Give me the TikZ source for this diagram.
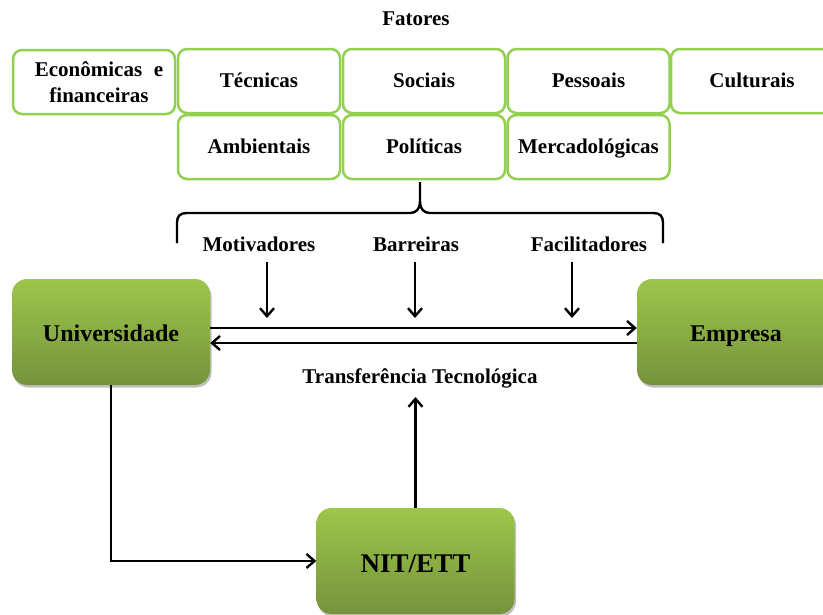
\documentclass[tikz,border=0pt]{standalone}
\usepackage{fontspec}
\setmainfont{Liberation Serif}
\usetikzlibrary{arrows.meta,shadows}
\definecolor{boxline}{RGB}{146,208,80}
\definecolor{gtop}{RGB}{157,198,75}
\definecolor{gbot}{RGB}{118,147,60}
\tikzset{
  fator/.style={draw=boxline, line width=2.5pt, rounded corners=9pt, fill=white,
    minimum width=162pt, minimum height=64pt, inner sep=0pt, align=center,
    text height=16pt, text depth=4pt,
    font=\fontsize{21}{26}\selectfont\bfseries},
  bigbox/.style={rounded corners=15pt, top color=gtop, bottom color=gbot, draw=none,
    minimum width=198pt, minimum height=106pt, inner sep=0pt,
    drop shadow={shadow xshift=1.5pt, shadow yshift=-2.5pt, fill=black, opacity=0.25}},
  lbl/.style={font=\fontsize{21}{22}\selectfont\bfseries, inner sep=0pt,
    text height=16pt, text depth=4pt},
  arr/.style={line width=2.4pt, -{Straight Barb[length=8pt,width=14pt,line width=2.4pt]}},
  ln/.style={line width=2.4pt}
}
\begin{document}
\begin{tikzpicture}[x=1pt,y=-1pt]
\clip (0,0) rectangle (823,614);
\fill[white] (0,0) rectangle (823,614);

\node[lbl] (fat) at (416,19) {Fatores};

% factor boxes
\node[fator, text height=, text depth=] (eco) at (94,82) {\hspace*{10pt}Econômicas\hspace{0.3em} e\\\hspace*{10pt}financeiras};
\node[fator] (tec) at (259,81) {Técnicas};
\node[fator] (soc) at (424,81) {Sociais};
\node[fator] (pes) at (588.5,81) {Pessoais};
\node[fator] (cul) at (752,81) {Culturais};
\node[fator] (amb) at (259,147) {Ambientais};
\node[fator] (pol) at (424,147) {Políticas};
\node[fator] (mer) at (588.5,147) {Mercadológicas};

% brace
\coordinate (bl) at (177,243);
\coordinate (br) at (663,243);
\coordinate (bt) at (420,182);
\draw[ln] (bl) -- (177,223) .. controls (177,216) and (180,213) .. (187,213)
  -- (410,213) .. controls (416,213) and (420,209) .. (420,202) -- (bt);
\draw[ln] (br) -- (663,223) .. controls (663,216) and (660,213) .. (653,213)
  -- (430,213) .. controls (424,213) and (420,209) .. (420,202);

% labels
\node[lbl] (mot) at (259,245) {Motivadores};
\node[lbl] (bar) at (416,245) {Barreiras};
\node[lbl] (fac) at (589,245) {Facilitadores};

% big boxes
\node[bigbox, text height=24pt, text depth=4.6pt] (uni) at (111,332) {\fontsize{24}{26}\selectfont\bfseries Universidade};
\node[bigbox, text height=24pt, text depth=4.6pt] (emp) at (736,332) {\fontsize{24}{26}\selectfont\bfseries Empresa};
\node[bigbox, text height=27pt, text depth=5pt] (nit) at (415.5,561) {\fontsize{27}{29}\selectfont\bfseries NIT/ETT};

\node[lbl] (tt) at (420,377) {Transferência Tecnológica};

% down arrows
\coordinate (m1) at (267,262); \coordinate (m2) at (267,318);
\coordinate (b1) at (415,262); \coordinate (b2) at (415,318);
\coordinate (f1) at (572,262); \coordinate (f2) at (572,318);
\draw[arr] (m1) -- (m2);
\draw[arr] (b1) -- (b2);
\draw[arr] (f1) -- (f2);

% horizontal transfer lines
\draw[arr] ([yshift=4pt]uni.east) -- ([yshift=4pt]emp.west);
\draw[arr] ([yshift=-11pt]emp.west) -- ([yshift=-11pt]uni.east);

% university to NIT
\draw[arr] (uni.south) |- (nit.west);
% NIT up
\coordinate (up) at (415.5,397);
\draw[arr] (nit.north) -- (up);
\end{tikzpicture}
\end{document}
